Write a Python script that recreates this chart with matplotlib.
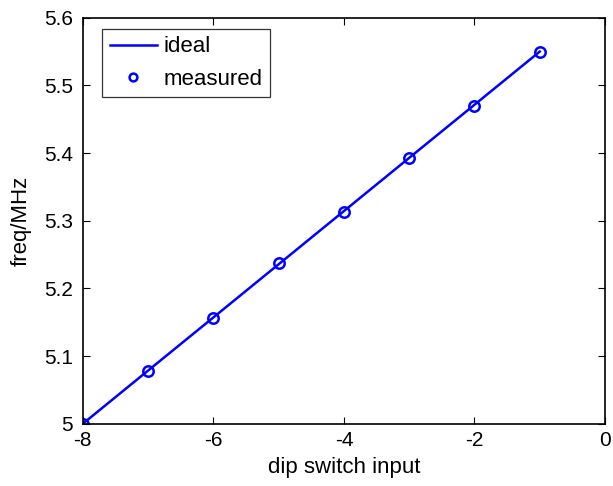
import matplotlib
matplotlib.use("Agg")
import matplotlib.pyplot as plt

plt.rcParams['font.family'] = ['Liberation Sans', 'DejaVu Sans']
plt.rcParams['axes.unicode_minus'] = False

x_ideal = [-8, -7, -6, -5, -4, -3, -2, -1]
y_ideal = [5.0, 5.0786, 5.1571, 5.2357, 5.3143, 5.3929, 5.4714, 5.55]
x_meas = [-8, -7, -6, -5, -4, -3, -2, -1]
y_meas = [5.0, 5.078, 5.157, 5.238, 5.313, 5.393, 5.470, 5.550]
xticks = [-8, -6, -4, -2, 0]
yticks = [5.0, 5.1, 5.2, 5.3, 5.4, 5.5, 5.6]
yticklabels = ['5', '5.1', '5.2', '5.3', '5.4', '5.5', '5.6']

fig = plt.figure(figsize=(6.13, 4.86), dpi=100)
ax = fig.add_axes([0.135, 0.128, 0.852, 0.8355])
ax.plot(x_ideal, y_ideal, '-', color='#0000ff', lw=1.8, label='ideal')
ax.plot(x_meas, y_meas, 'o', color='#0000ff', mfc='none', mew=1.8, ms=7.5, label='measured')
ax.set_xlim(-8, 0)
ax.set_ylim(5.0, 5.6)
ax.set_xticks(xticks)
ax.set_yticks(yticks)
ax.set_yticklabels(yticklabels)
ax.tick_params(direction='in', top=True, right=True, labelsize=15, length=5, width=0.8)
ax.tick_params(axis='x', pad=5)
ax.tick_params(axis='y', pad=7)
for s in ax.spines.values():
    s.set_linewidth(1.2)
ax.set_xlabel('dip switch input', fontsize=16, labelpad=5)
ax.set_ylabel('freq/MHz', fontsize=16, labelpad=9)
leg = ax.legend(loc='upper left', bbox_to_anchor=(0.037, 0.973), fontsize=16, frameon=True,
                fancybox=False, edgecolor='black', handlelength=2.1, borderpad=0.35,
                labelspacing=0.5, handletextpad=0.3, borderaxespad=0, markerscale=0.75)
leg.get_frame().set_linewidth(0.9)
fig.savefig('out.png', dpi=100)
